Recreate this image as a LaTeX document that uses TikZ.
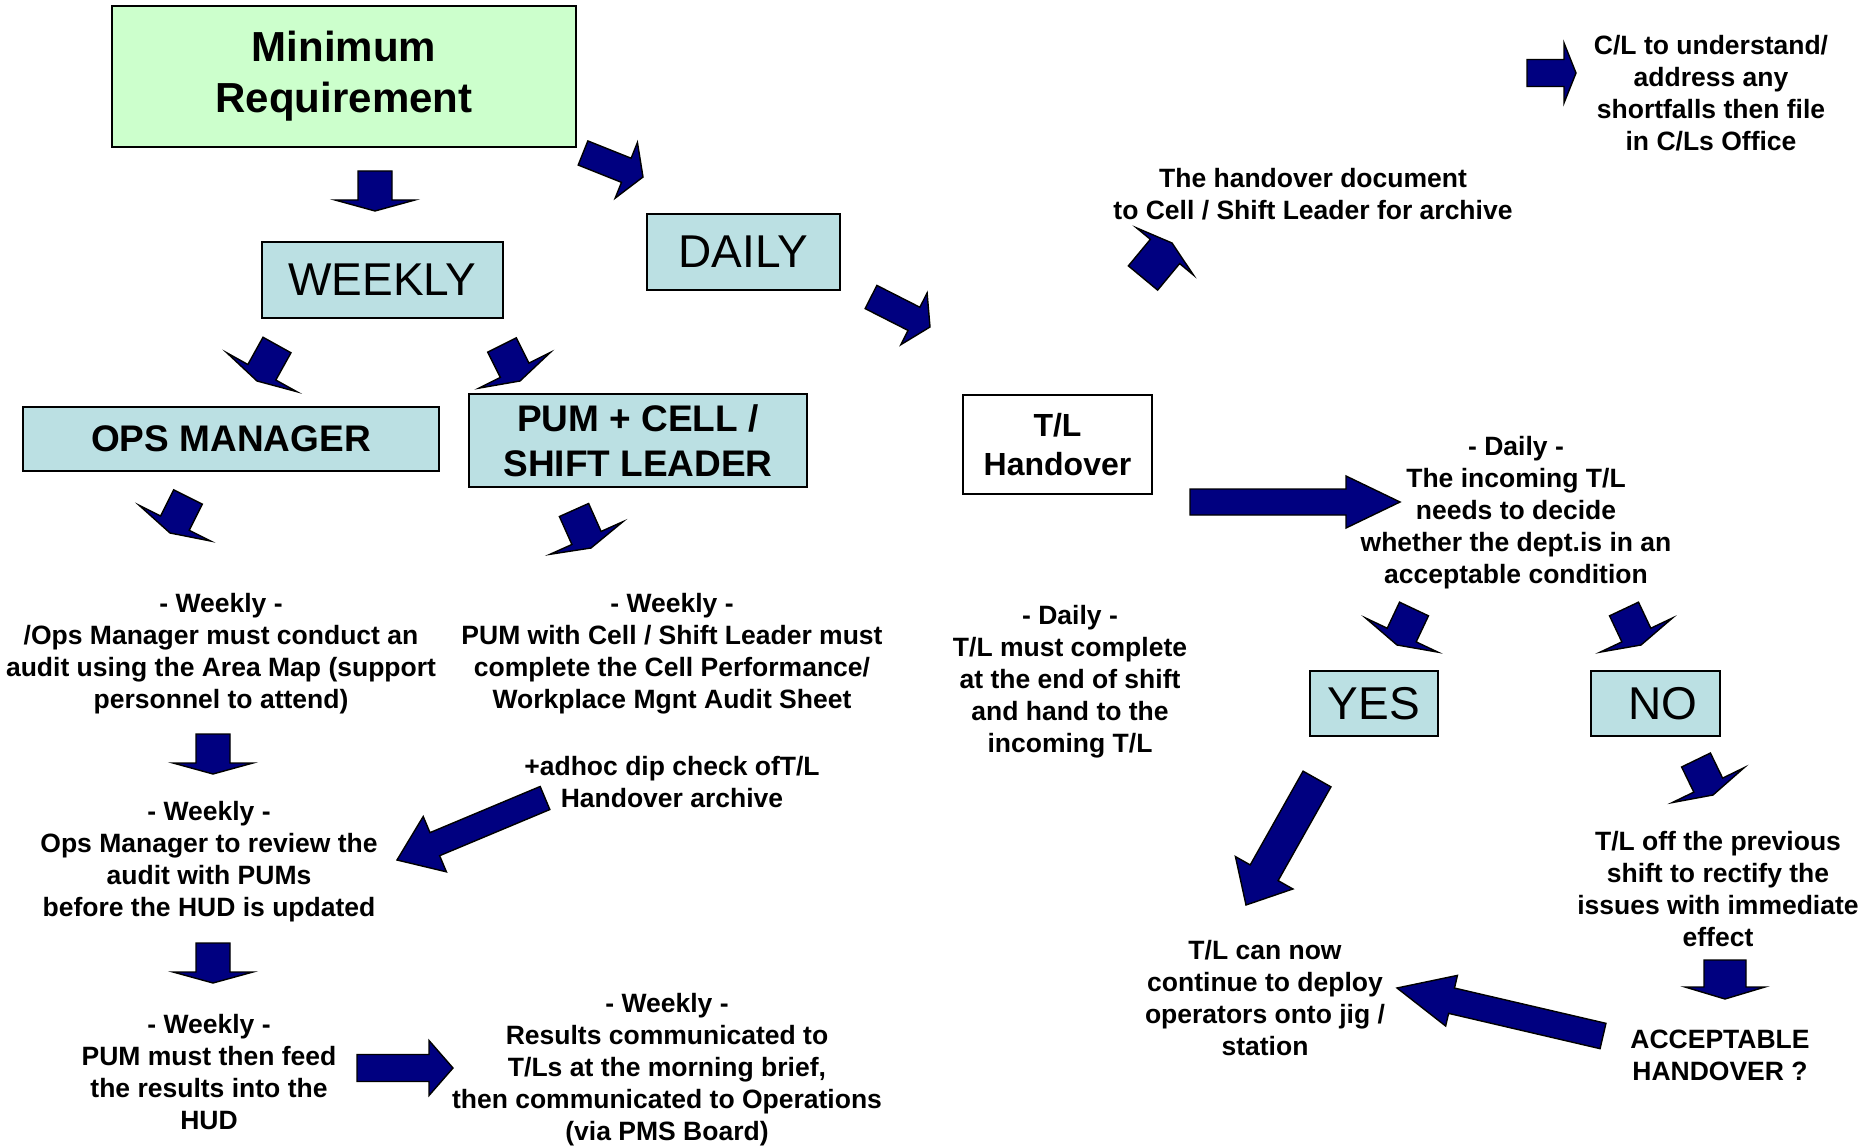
\documentclass[tikz,border=0pt]{standalone}
\usepackage{fontspec}
\setmainfont{Liberation Sans}
\usetikzlibrary{calc}
\definecolor{navyfill}{RGB}{0,0,128}
\definecolor{boxblue}{RGB}{187,224,227}
\definecolor{boxgreen}{RGB}{204,255,204}
\tikzset{
  every picture/.style={x=1pt, y=-1pt},
  box/.style={
    draw=black,
    line width=1.8pt,
    fill=boxblue,
    inner sep=0pt,
    align=center
  },
  bigbold/.style={font=\bfseries\fontsize{42}{51}\selectfont},
  biglabel/.style={font=\fontsize{46}{52}\selectfont},
  boxbold/.style={font=\bfseries\fontsize{37}{45}\selectfont},
  tlbold/.style={font=\bfseries\fontsize{32}{39}\selectfont},
  note/.style={
    align=center,
    inner sep=0pt,
    font=\bfseries\fontsize{26.5}{32}\selectfont
  },
  navyarrow/.style={
    fill=navyfill,
    draw=black,
    line width=1.4pt,
    line join=miter
  }
}
% tail, tip, half shaft, half head, head length
\newcommand{\blockarrow}[5]{%
  \coordinate (ba) at ($(#2)!#5pt!(#1)$);
  \filldraw[navyarrow] ($(#1)!#3pt!90:(#2)$) -- ($(ba)!#3pt!90:(#2)$)
    -- ($(ba)!#4pt!90:(#2)$) -- (#2) -- ($(ba)!#4pt!-90:(#2)$)
    -- ($(ba)!#3pt!-90:(#2)$) -- ($(#1)!#3pt!-90:(#2)$) -- cycle;}
\begin{document}
\begin{tikzpicture}
  \useasboundingbox[fill=white] (0,0) rectangle (1862,1147);
  % boxes
  \node[box, fill=boxgreen, bigbold, minimum width=464pt, minimum height=141pt] (minreq) at (344,76.5) {Minimum\\Requirement};
  \node[box, biglabel, minimum width=241pt, minimum height=76pt] (weekly) at (382.5,280) {WEEKLY};
  \node[box, biglabel, minimum width=193pt, minimum height=76pt] (daily) at (743.5,252) {DAILY};
  \node[box, boxbold, minimum width=416pt, minimum height=64pt] (opsman) at (231,439) {OPS MANAGER};
  \node[box, boxbold, minimum width=338pt, minimum height=93pt] (pumcell) at (638,440.5) {PUM + CELL /\\SHIFT LEADER};
  \node[box, fill=white, tlbold, minimum width=189pt, minimum height=99pt] (tlhand) at (1057.5,444.5) {T/L\\Handover};
  \node[box, biglabel, minimum width=128pt, minimum height=65pt] (yes) at (1374,703.5) {YES};
  \node[box, biglabel, minimum width=129pt, minimum height=65pt, text width=129pt, align=center] (no) at (1655.5,703.5) {\hspace*{14pt}NO};
  % texts
  \node[note] (clnote) at (1711,93) {C/L to understand/\\address any\\shortfalls then file\\in C/Ls Office};
  \node[note] (hdoc) at (1313,194) {The handover document\\to Cell / Shift Leader for archive};
  \node[note] (decide) at (1516,513) {- Daily -\\The incoming T/L\\needs to decide\\whether the dept.is in an\\acceptable condition};
  \node[note] (tlmust) at (1070,682) {- Daily -\\T/L must complete\\at the end of shift\\and hand to the\\incoming T/L};
  \node[note] (tloff) at (1718,889) {T/L off the previous\\shift to rectify the\\issues with immediate\\effect};
  \node[note] (accept) at (1720,1055) {ACCEPTABLE\\HANDOVER ?};
  \node[note] (cannow) at (1265,998) {T/L can now\\continue to deploy\\operators onto jig /\\station};
  \node[note] (opsaudit) at (221,654) {- Weekly -\\/Ops Manager must conduct an\\audit using the Area Map (support\\personnel to attend)};
  \node[note] (pumaudit) at (672,654) {- Weekly -\\PUM with Cell / Shift Leader must\\complete the Cell Performance/\\Workplace Mgnt Audit Sheet};
  \node[note] (adhoc) at (672,782) {+adhoc dip check ofT/L\\Handover archive};
  \node[note] (review) at (209,862) {- Weekly -\\Ops Manager to review  the\\audit with PUMs\\before the HUD is updated};
  \node[note] (feed) at (209,1072) {- Weekly -\\PUM must then feed\\the results into the\\HUD};
  \node[note] (results) at (667,1070) {- Weekly -\\Results communicated to\\T/Ls at the morning brief,\\then communicated to Operations\\(via PMS Board)};
  % arrow ends
  \coordinate (mrwks) at (375,171);   \coordinate (mrwke) at (375,211);
  \coordinate (mrdys) at (583,153);   \coordinate (mrdye) at (643,177);
  \coordinate (wkopss) at (277,345);  \coordinate (wkopse) at (257,381);
  \coordinate (wkpums) at (502,345);  \coordinate (wkpume) at (520,381);
  \coordinate (dytls) at (871,297);   \coordinate (dytle) at (930,327);
  \coordinate (hdocs) at (1143,278);  \coordinate (hdoce) at (1172,243);
  \coordinate (cls) at (1527,73);     \coordinate (cle) at (1576,73);
  \coordinate (opsas) at (188,497);   \coordinate (opsae) at (170,533);
  \coordinate (pumas) at (574,510);   \coordinate (pumae) at (591,548);
  \coordinate (revs) at (213,734);    \coordinate (reve) at (213,774);
  \coordinate (adhocs) at (545,798);  \coordinate (adhoce) at (397,860);
  \coordinate (feeds) at (213,943);   \coordinate (feede) at (213,983);
  \coordinate (ress) at (357,1068);   \coordinate (rese) at (453,1068);
  \coordinate (decs) at (1190,502);   \coordinate (dece) at (1400,502);
  \coordinate (yess) at (1414,609);   \coordinate (yese) at (1397,645);
  \coordinate (nos) at (1624,609);    \coordinate (noe) at (1641,645);
  \coordinate (offs) at (1696,760);   \coordinate (offe) at (1713,795);
  \coordinate (nows) at (1317,779);   \coordinate (nowe) at (1246,905);
  \coordinate (accs) at (1725,960);   \coordinate (acce) at (1725,999);
  \coordinate (backs) at (1603,1036); \coordinate (backe) at (1397,988);
  % block arrows
  \blockarrow{mrwks}{mrwke}{17}{40}{11}
  \blockarrow{mrdys}{mrdye}{13}{30}{18}
  \blockarrow{wkopss}{wkopse}{16}{40}{10}
  \blockarrow{wkpums}{wkpume}{16}{40}{12}
  \blockarrow{dytls}{dytle}{13}{29}{18}
  \blockarrow{hdocs}{hdoce}{19}{37}{11}
  \blockarrow{cls}{cle}{13.5}{30}{12}
  \blockarrow{opsas}{opsae}{16}{40}{11}
  \blockarrow{pumas}{pumae}{16}{40}{11}
  \blockarrow{revs}{reve}{17}{40}{11}
  \blockarrow{adhocs}{adhoce}{12.5}{30}{41}
  \blockarrow{feeds}{feede}{17}{40}{11}
  \blockarrow{ress}{rese}{13.5}{27.5}{24}
  \blockarrow{decs}{dece}{13}{26}{54}
  \blockarrow{yess}{yese}{16}{40}{11}
  \blockarrow{nos}{noe}{16}{40}{11}
  \blockarrow{offs}{offe}{16}{40}{11}
  \blockarrow{nows}{nowe}{16}{33}{37}
  \blockarrow{accs}{acce}{21}{40}{12}
  \blockarrow{backs}{backe}{13}{26}{56}
\end{tikzpicture}
\end{document}
